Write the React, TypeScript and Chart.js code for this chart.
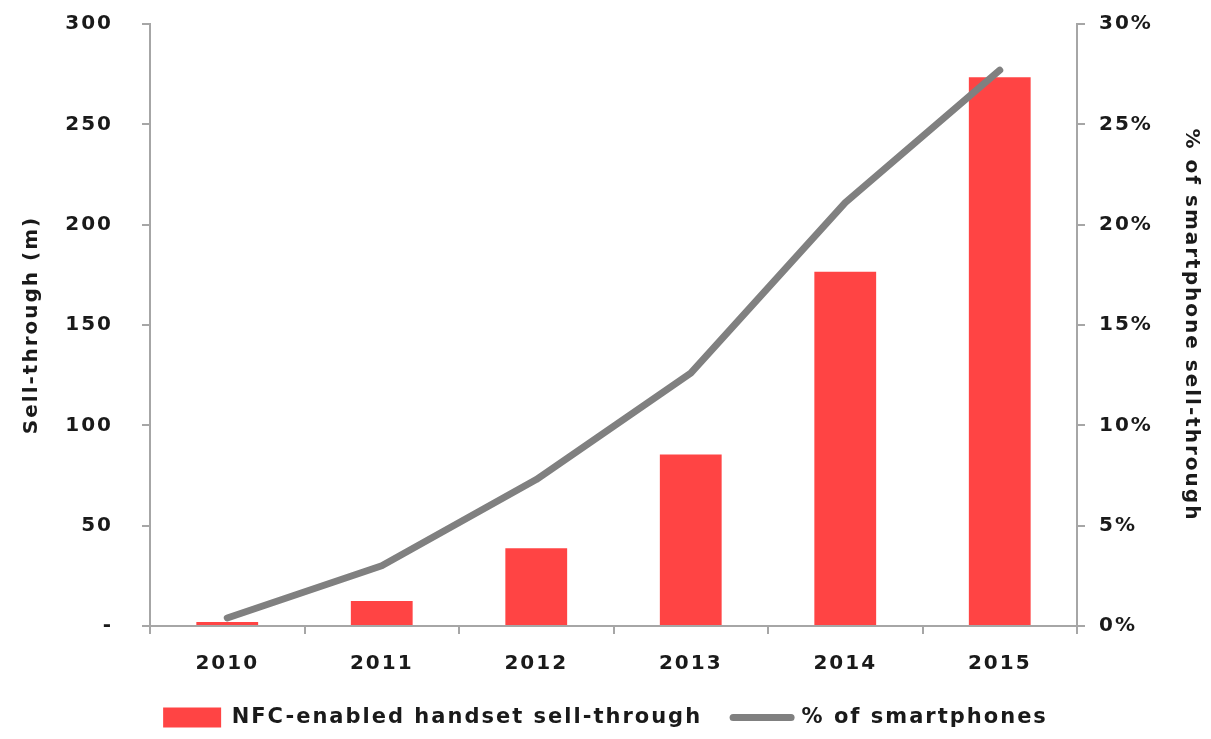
import React, { useEffect, useRef } from 'react';
import { Chart, registerables } from 'chart.js';

Chart.register(...registerables);

const years = ['2010', '2011', '2012', '2013', '2014', '2015'];
const sellThrough = [2, 12.4, 38.7, 85.5, 176.5, 273.5];
const smartphonePct = [0.4, 3.0, 7.3, 12.6, 21.1, 27.7];
const leftTitle = 'Sell-through (m)';
const rightTitle = '% of smartphone sell-through';
const barLabel = 'NFC-enabled handset sell-through';
const lineLabel = '% of smartphones';

const RED = '#FF4444';
const GRAY = '#808080';
const AXIS = '#A6A6A6';
const TEXT = '#1a1a1a';
const FAMILY = '"DejaVu Sans", Verdana, sans-serif';
const FONT = { family: FAMILY, size: 20, weight: 'bold' as const };
const LEGEND_FONT = { family: FAMILY, size: 21, weight: 'bold' as const };
const SPACING = '2px';

const spacingPlugin = {
  id: 'letterSpacing',
  beforeUpdate(chart: any) { (chart.ctx as any).letterSpacing = SPACING; },
  beforeLayout(chart: any) { (chart.ctx as any).letterSpacing = SPACING; },
  beforeDraw(chart: any) { (chart.ctx as any).letterSpacing = SPACING; },
};

export default function App() {
  const ref = useRef<HTMLCanvasElement | null>(null);

  useEffect(() => {
    if (!ref.current) return;
    const chart = new Chart(ref.current, {
      data: {
        labels: years,
        datasets: [
          {
            type: 'bar',
            label: barLabel,
            data: sellThrough,
            backgroundColor: RED,
            borderWidth: 0,
            yAxisID: 'y',
            order: 1,
            barPercentage: 0.4,
            categoryPercentage: 1,
            pointStyle: 'rect',
          } as any,
          {
            type: 'line',
            label: lineLabel,
            data: smartphonePct,
            borderColor: GRAY,
            backgroundColor: GRAY,
            borderWidth: 7,
            borderCapStyle: 'round',
            borderJoinStyle: 'round',
            tension: 0,
            pointRadius: 0,
            pointHoverRadius: 0,
            pointStyle: 'line',
            yAxisID: 'y1',
            order: 0,
          } as any,
        ],
      },
      options: {
        responsive: false,
        animation: false,
        devicePixelRatio: 1,
        layout: { padding: { top: 24, right: 0, bottom: 1, left: 0 } },
        plugins: {
          tooltip: { enabled: false },
          legend: {
            position: 'bottom',
            labels: {
              usePointStyle: true,
              pointStyleWidth: 58,
              boxHeight: 20,
              padding: 31,
              color: TEXT,
              font: LEGEND_FONT,
              generateLabels: (c: any) => {
                const items = (Chart.defaults.plugins.legend.labels as any).generateLabels(c);
                items.forEach((it: any) => {
                  if (it.datasetIndex === 1) {
                    it.lineWidth = 7;
                    it.strokeStyle = GRAY;
                    it.lineCap = 'round';
                  }
                });
                return items.sort((a: any, b: any) => a.datasetIndex - b.datasetIndex);
              },
            },
          },
        },
        scales: {
          x: {
            grid: { drawOnChartArea: false, drawTicks: true, tickLength: 8, color: AXIS, lineWidth: 2, offset: true },
            border: { color: AXIS, width: 2 },
            ticks: { color: TEXT, font: FONT, padding: 18 },
            afterFit: (s: any) => { s.height = 50; },
          },
          y: {
            position: 'left',
            min: 0,
            max: 300,
            ticks: {
              stepSize: 50,
              color: TEXT,
              font: FONT,
              padding: 29,
              callback: (v: any) => (Number(v) === 0 ? '-' : String(v)),
            },
            grid: { drawOnChartArea: false, drawTicks: true, tickLength: 8, color: AXIS, lineWidth: 2 },
            border: { color: AXIS, width: 2 },
            title: { display: true, text: leftTitle, color: TEXT, font: FONT, padding: { top: 20, bottom: 0 } },
            afterFit: (s: any) => { s.width = 150; s.paddingTop = 12; s.paddingBottom = 12; },
          },
          y1: {
            position: 'right',
            min: 0,
            max: 30,
            ticks: {
              stepSize: 5,
              color: TEXT,
              font: FONT,
              padding: 14,
              callback: (v: any) => `${v}%`,
            },
            grid: { drawOnChartArea: false, drawTicks: true, tickLength: 8, color: AXIS, lineWidth: 2 },
            border: { color: AXIS, width: 2 },
            title: { display: true, text: rightTitle, color: TEXT, font: FONT, padding: { top: 8, bottom: 0 } },
            afterFit: (s: any) => { s.width = 134; s.paddingTop = 12; s.paddingBottom = 12; },
          },
        },
      } as any,
      plugins: [spacingPlugin],
    });
    return () => chart.destroy();
  }, []);

  return (
    <div style={{ position: 'fixed', left: 0, top: 0, width: 1211, height: 739, background: '#fff' }}>
      <canvas ref={ref} width={1211} height={739} style={{ width: 1211, height: 739 }} />
    </div>
  );
}
